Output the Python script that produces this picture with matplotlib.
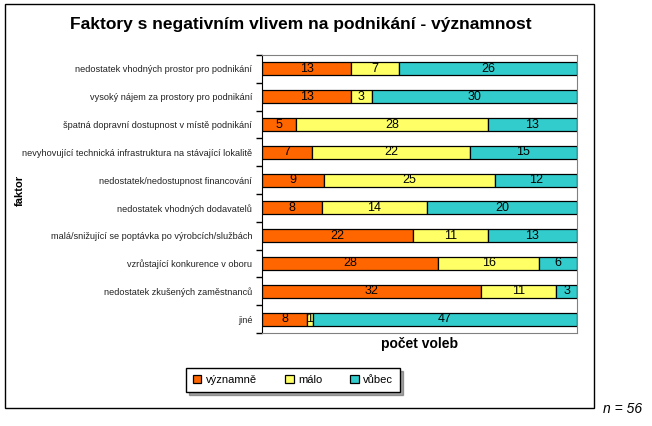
import numpy as np
import matplotlib
matplotlib.use("Agg")
import matplotlib.pyplot as plt
from matplotlib.patches import Rectangle

plt.rcParams['font.family'] = ['Liberation Sans', 'DejaVu Sans']

faktory = ["nedostatek vhodných prostor pro podnikání",
           "vysoký nájem za prostory pro podnikání",
           "špatná dopravní dostupnost v místě podnikání",
           "nevyhovující technická infrastruktura na stávající lokalitě",
           "nedostatek/nedostupnost financování",
           "nedostatek vhodných dodavatelů",
           "malá/snižující se poptávka po výrobcích/službách",
           "vzrůstající konkurence v oboru",
           "nedostatek zkušených zaměstnanců",
           "jiné"]
vyznamne = [13, 13, 5, 7, 9, 8, 22, 28, 32, 8]
malo = [7, 3, 28, 22, 25, 14, 11, 16, 11, 1]
vubec = [26, 30, 13, 15, 12, 20, 13, 6, 3, 47]

serie = [("významně", vyznamne, "#FF6600"),
         ("málo", malo, "#FFFF66"),
         ("vůbec", vubec, "#33CCCC")]

fig = plt.figure(figsize=(6.52, 4.26), dpi=100)
fig.patches.append(Rectangle((5/652, 1-408/426), 589/652, 404/426, transform=fig.transFigure,
                             fill=False, edgecolor="black", linewidth=1))

ax = fig.add_axes([262/652, 1-333/426, 315/652, 278/426])
y = np.arange(len(faktory))
total = np.array(vyznamne) + np.array(malo) + np.array(vubec)
left = np.zeros(len(faktory))
handles = []
for name, vals, col in serie:
    w = np.array(vals) / total
    b = ax.barh(y, w, left=left, height=0.47, color=col, edgecolor="black", linewidth=0.9, label=name)
    for yi, li, wi, v in zip(y, left, w, vals):
        ax.text(li + wi / 2, yi, str(v), ha="center", va="center", fontsize=9, color="black")
    left += w
    handles.append(b)

ax.set_xlim(0, 1)
ax.set_ylim(len(faktory) - 0.5, -0.5)
ax.set_xticks([])
ax.set_yticks(y)
ax.set_yticklabels(faktory, fontsize=6.6, color="#222222")
ax.tick_params(axis="y", which="major", length=0, pad=7)
ax.set_yticks(np.arange(-0.5, len(faktory)), minor=True)
ax.tick_params(axis="y", which="minor", length=4, width=1, direction="out")
for s in ["top", "right", "bottom"]:
    ax.spines[s].set_color("#808080")
ax.spines["left"].set_color("black")
ax.set_xlabel("počet voleb", fontsize=10, fontweight="bold", labelpad=3)

fig.text(301/652, 1-25/426, "Faktory s negativním vlivem na podnikání - významnost",
         ha="center", va="center", fontsize=12.5, fontweight="bold")
fig.text(20/652, 1-190/426, "faktor", rotation=90, ha="center", va="center",
         fontsize=8, fontweight="bold")
fig.text(623/652, 1-409/426, "n = 56", ha="center", va="center", fontsize=10, style="italic")

leg = fig.legend(handles=handles, loc="center", bbox_to_anchor=(293/652, 1-380/426), ncol=3,
                 fontsize=8, frameon=True, shadow=True, fancybox=False, handlelength=0.8,
                 handleheight=0.8, columnspacing=2.5, handletextpad=0.4, borderpad=0.6)
leg.get_frame().set_edgecolor("black")
leg.get_frame().set_linewidth(1)

fig.savefig("out.png", dpi=100)
